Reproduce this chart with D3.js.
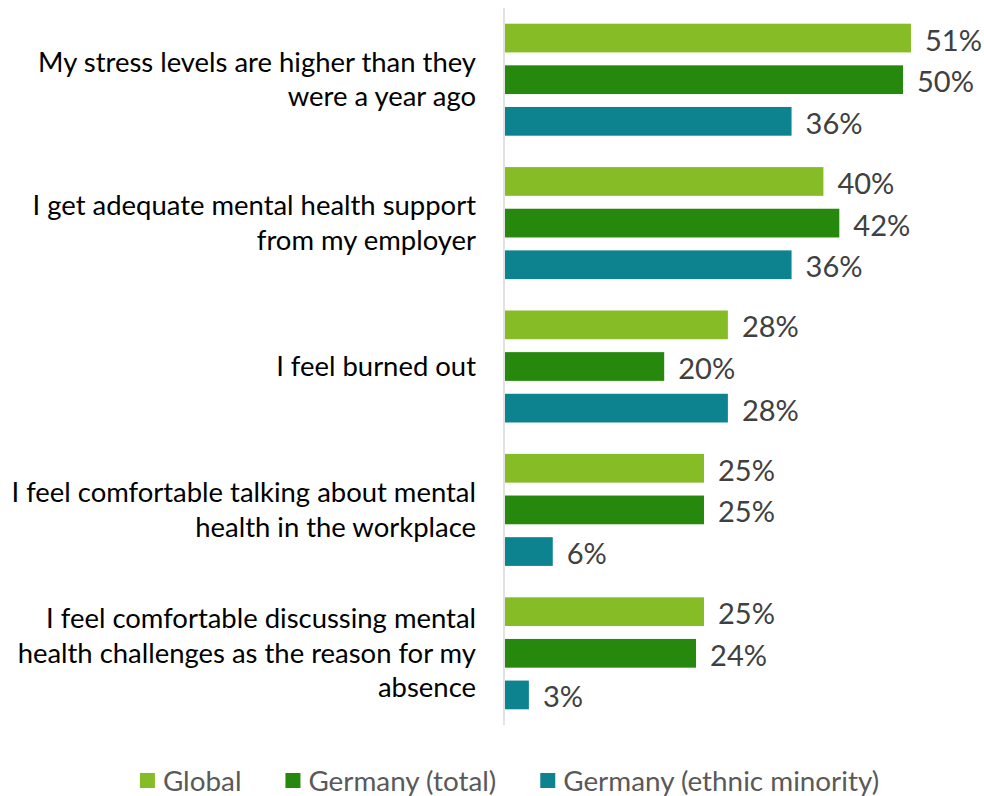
<!DOCTYPE html>
<html>
<head>
<meta charset="utf-8">
<script src="https://cdn.jsdelivr.net/npm/d3@7"></script>
<style>
  html, body { margin: 0; padding: 0; background: #fff; }
  svg { display: block; }
</style>
</head>
<body>
<svg id="chart" width="984" height="796"></svg>
<script>
// ---- data ----
const categories = [
  "My stress levels are higher than they\nwere a year ago",
  "I get adequate mental health support\nfrom my employer",
  "I feel burned out",
  "I feel comfortable talking about mental\nhealth in the workplace",
  "I feel comfortable discussing mental\nhealth challenges as the reason for my\nabsence"
];
const seriesNames = ["Global", "Germany (total)", "Germany (ethnic minority)"];
const globalValues = [51, 40, 28, 25, 25];
const germanyTotalValues = [50, 42, 20, 25, 24];
const germanyMinorityValues = [36, 36, 28, 6, 3];
const seriesColors = ["#86BC25", "#26890D", "#0D8390"];

const seriesValues = [globalValues, germanyTotalValues, germanyMinorityValues];
const table = categories.map((c, i) => ({
  category: c,
  values: seriesNames.map((s, k) => ({ series: s, value: seriesValues[k][i] }))
}));

const FONT = "Lato, 'Open Sans', sans-serif";
const svg = d3.select("#chart");

// measure helper to emulate Calibri metrics
function fitSize(text, target, base) {
  const t = svg.append("text").attr("font-family", FONT).attr("font-size", base).text(text);
  const w = t.node().getComputedTextLength();
  t.remove();
  return base * target / w;
}
const catSize = fitSize("My stress levels are higher than they", 438, 28);
const valSize = fitSize("51%", 57, 28);
const legSize = fitSize("Germany (ethnic minority)", 316, 28);

// ---- scales ----
const x = d3.scaleLinear().domain([0, 60]).range([505, 505 + 60 * 7.96]);
const y0 = d3.scaleBand().domain(categories).range([8, 725]).paddingInner(0.219).paddingOuter(0.1095);
const y1 = d3.scaleBand().domain(seriesNames).range([0, y0.bandwidth()]).paddingInner(0.31).paddingOuter(0);
const color = d3.scaleOrdinal().domain(seriesNames).range(seriesColors);

// ---- axis line ----
svg.append("line")
  .attr("x1", 504).attr("x2", 504)
  .attr("y1", y0.range()[0]).attr("y2", y0.range()[1])
  .attr("stroke", "#d9d9d9").attr("stroke-width", 1.5);

// ---- bars ----
const groups = svg.append("g").selectAll("g").data(table).join("g")
  .attr("transform", d => `translate(0,${y0(d.category)})`);

groups.selectAll("rect").data(d => d.values).join("rect")
  .attr("x", x(0))
  .attr("y", d => y1(d.series))
  .attr("width", d => x(d.value) - x(0))
  .attr("height", y1.bandwidth())
  .attr("fill", d => color(d.series));

groups.selectAll("text.val").data(d => d.values).join("text")
  .attr("class", "val")
  .attr("x", d => x(d.value) + 14)
  .attr("y", d => y1(d.series) + y1.bandwidth() / 2 + 1)
  .attr("dominant-baseline", "central")
  .attr("font-family", FONT)
  .attr("font-size", valSize)
  .attr("fill", "#404040")
  .text(d => d.value + "%");

// ---- category labels ----
const lineH = 34.5;
svg.append("g").selectAll("text").data(categories).join("text")
  .attr("text-anchor", "end")
  .attr("font-family", FONT)
  .attr("font-size", catSize)
  .attr("fill", "#000")
  .each(function(d) {
    const lines = d.split("\n");
    const cy = y0(d) + y0.bandwidth() / 2 - 1;
    const start = cy - (lines.length - 1) * lineH / 2;
    d3.select(this).selectAll("tspan").data(lines).join("tspan")
      .attr("x", 476)
      .attr("y", (l, i) => start + i * lineH)
      .attr("dominant-baseline", "central")
      .text(l => l);
  });

// ---- legend ----
const legend = svg.append("g");
const sq = 15, gapText = 8, gapItem = 44;
let cursor = 0;
const items = seriesNames.map(s => {
  const t = svg.append("text").attr("font-family", FONT).attr("font-size", legSize).text(s);
  const w = t.node().getComputedTextLength();
  t.remove();
  const it = { name: s, x: cursor, w };
  cursor += sq + gapText + w + gapItem;
  return it;
});
const totalW = cursor - gapItem;
const legX = 509.5 - totalW / 2;
const legY = 780.5;
const li = legend.selectAll("g").data(items).join("g")
  .attr("transform", d => `translate(${legX + d.x},0)`);
li.append("rect")
  .attr("x", 0).attr("y", legY - sq / 2)
  .attr("width", sq).attr("height", sq)
  .attr("fill", d => color(d.name));
li.append("text")
  .attr("x", sq + gapText).attr("y", legY)
  .attr("dominant-baseline", "central")
  .attr("font-family", FONT).attr("font-size", legSize)
  .attr("fill", "#595959")
  .text(d => d.name);
</script>
</body>
</html>
